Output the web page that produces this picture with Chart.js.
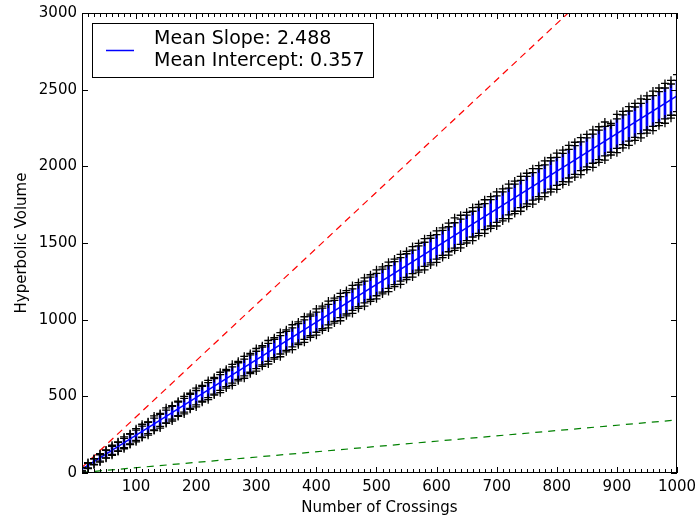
<!DOCTYPE html>
<html>
<head>
<meta charset="utf-8">
<script src="https://cdn.jsdelivr.net/npm/chart.js@4.4.0/dist/chart.umd.min.js"></script>
<style>
  html, body { margin: 0; padding: 0; background: #fff; }
  canvas { display: block; }
</style>
</head>
<body>
<canvas id="volumeChart" width="696" height="522"></canvas>
<script>
// Crossing numbers sampled (every 10)
const crossings = [10, 20, 30, 40, 50, 60, 70, 80, 90, 100,
    110, 120, 130, 140, 150, 160, 170, 180, 190, 200,
    210, 220, 230, 240, 250, 260, 270, 280, 290, 300,
    310, 320, 330, 340, 350, 360, 370, 380, 390, 400,
    410, 420, 430, 440, 450, 460, 470, 480, 490, 500,
    510, 520, 530, 540, 550, 560, 570, 580, 590, 600,
    610, 620, 630, 640, 650, 660, 670, 680, 690, 700,
    710, 720, 730, 740, 750, 760, 770, 780, 790, 800,
    810, 820, 830, 840, 850, 860, 870, 880, 890, 900,
    910, 920, 930, 940, 950, 960, 970, 980, 990, 1000];

// Sampled volumes at each crossing number: two high, two low
const volumeHigh = [37, 68, 94, 126, 150, 181, 203, 235, 256, 289,
    318, 334, 372, 388, 425, 440, 468, 500, 520, 553,
    572, 604, 624, 657, 676, 709, 728, 761, 780, 812,
    830, 864, 882, 916, 934, 967, 985, 1019, 1036, 1070,
    1088, 1121, 1140, 1172, 1190, 1223, 1242, 1273, 1293, 1325,
    1344, 1375, 1395, 1426, 1446, 1477, 1497, 1528, 1548, 1579,
    1599, 1630, 1664, 1681, 1700, 1731, 1751, 1782, 1802, 1833,
    1853, 1884, 1904, 1934, 1955, 1985, 2005, 2036, 2056, 2086,
    2106, 2137, 2157, 2187, 2208, 2238, 2258, 2289, 2280, 2339,
    2359, 2390, 2410, 2440, 2460, 2491, 2511, 2541, 2561, 2598];
const volumeHigh2 = [35, 63, 92, 119, 147, 173, 200, 226, 253, 279,
    306, 331, 358, 383, 410, 435, 462, 487, 513, 538,
    565, 589, 616, 641, 667, 692, 719, 743, 770, 794,
    821, 845, 872, 896, 923, 947, 974, 998, 1024, 1049,
    1075, 1100, 1126, 1150, 1177, 1201, 1227, 1252, 1278, 1302,
    1329, 1353, 1379, 1404, 1430, 1454, 1481, 1505, 1531, 1555,
    1582, 1606, 1632, 1656, 1682, 1707, 1733, 1757, 1783, 1807,
    1834, 1858, 1884, 1908, 1934, 1959, 1985, 2009, 2035, 2059,
    2085, 2110, 2135, 2160, 2186, 2210, 2236, 2261, 2268, 2310,
    2336, 2361, 2387, 2411, 2437, 2461, 2487, 2511, 2537, 2560];
const volumeLow2 = [14, 34, 56, 77, 99, 122, 144, 166, 189, 212,
    234, 257, 281, 304, 327, 351, 374, 397, 421, 444,
    468, 492, 515, 539, 563, 586, 610, 634, 657, 681,
    705, 728, 752, 776, 800, 823, 847, 871, 895, 918,
    942, 966, 989, 1013, 1037, 1061, 1085, 1109, 1132, 1156,
    1180, 1204, 1228, 1252, 1276, 1300, 1323, 1347, 1371, 1395,
    1419, 1443, 1467, 1491, 1515, 1539, 1563, 1587, 1611, 1635,
    1659, 1683, 1707, 1731, 1755, 1779, 1803, 1827, 1851, 1876,
    1900, 1924, 1948, 1972, 1996, 2020, 2044, 2068, 2092, 2117,
    2141, 2165, 2189, 2213, 2237, 2261, 2285, 2309, 2333, 2357];
const volumeLow = [13, 29, 53, 71, 97, 115, 141, 158, 186, 203,
    231, 247, 277, 293, 323, 339, 369, 385, 415, 431,
    462, 478, 508, 524, 554, 571, 601, 618, 648, 665,
    696, 711, 743, 758, 790, 805, 837, 852, 884, 899,
    931, 946, 978, 993, 1025, 1041, 1073, 1088, 1120, 1136,
    1168, 1183, 1215, 1230, 1262, 1278, 1310, 1325, 1357, 1373,
    1405, 1421, 1452, 1468, 1500, 1516, 1548, 1563, 1596, 1611,
    1644, 1659, 1692, 1707, 1739, 1754, 1787, 1802, 1834, 1850,
    1882, 1898, 1930, 1946, 1978, 1993, 2026, 2041, 2074, 2089,
    2121, 2137, 2169, 2185, 2217, 2233, 2265, 2281, 2314, 2333];

// Straight lines: ends at x = 10 and x = 1000
const lineEnds = [10, 1000];
const meanFit = [24.6, 2460];        // mean fit line (blue)
const upperBound = [36.6, 3663.9];   // red dashed
const lowerBound = [3.5, 346];       // green dashed

const legendLines = ['Mean Slope: 2.488', 'Mean Intercept: 0.357'];

const FONT = 'DejaVu Sans';
Chart.defaults.font.family = FONT;
Chart.defaults.color = '#000';

function pts(xs, ys) {
    return xs.map((x, i) => ({ x: x, y: ys[i] }));
}

function markers(label, ys) {
    return {
        type: 'line',
        label: label,
        data: pts(crossings, ys),
        showLine: false,
        pointStyle: 'cross',
        pointRadius: 4,
        borderColor: '#000',
        borderWidth: 1.3,
        order: 1
    };
}

// frame, inside ticks (matplotlib style) and the boxed legend
const frameAndLegend = {
    id: 'frameAndLegend',
    afterDraw(chart) {
        const { ctx, chartArea: a, scales: { x, y } } = chart;
        ctx.save();
        ctx.strokeStyle = '#000';
        ctx.lineWidth = 1;
        ctx.beginPath();
        for (let v = 10; v <= 1000; v += 10) {
            const px = Math.round(x.getPixelForValue(v)) + 0.5;
            const len = v % 100 === 0 ? 6 : 4;
            ctx.moveTo(px, a.bottom);
            ctx.lineTo(px, a.bottom - len);
            ctx.moveTo(px, a.top);
            ctx.lineTo(px, a.top + len);
        }
        y.ticks.forEach(t => {
            const py = Math.round(y.getPixelForValue(t.value)) + 0.5;
            ctx.moveTo(a.left, py);
            ctx.lineTo(a.left + 6, py);
            ctx.moveTo(a.right, py);
            ctx.lineTo(a.right - 6, py);
        });
        ctx.stroke();
        ctx.strokeRect(a.left + 0.5, a.top + 0.5, a.width - 1, a.height - 1);

        // legend box
        const bx = a.left + 10, by = a.top + 10;
        ctx.fillStyle = '#fff';
        ctx.fillRect(bx, by, 281, 54);
        ctx.strokeRect(bx + 0.5, by + 0.5, 281, 54);
        ctx.strokeStyle = '#0000ff';
        ctx.lineWidth = 1.5;
        ctx.beginPath();
        ctx.moveTo(bx + 14, by + 27.5);
        ctx.lineTo(bx + 42, by + 27.5);
        ctx.stroke();
        ctx.fillStyle = '#000';
        ctx.font = '19px "' + FONT + '"';
        ctx.textBaseline = 'middle';
        ctx.textAlign = 'left';
        ctx.fillText(legendLines[0], bx + 62, by + 16);
        ctx.fillText(legendLines[1], bx + 62, by + 38);
        ctx.restore();
    }
};

const noPad = s => { s.paddingLeft = 0; s.paddingRight = 0; s.paddingTop = 0; s.paddingBottom = 0; };

const ctx = document.getElementById('volumeChart').getContext('2d');
new Chart(ctx, {
    type: 'scatter',
    data: {
        datasets: [
            {
                type: 'line',
                label: 'Mean fit',
                data: pts(lineEnds, meanFit),
                borderColor: '#0000ff',
                borderWidth: 1.5,
                pointRadius: 0,
                order: 2
            },
            markers('High', volumeHigh),
            markers('High 2', volumeHigh2),
            markers('Low 2', volumeLow2),
            markers('Low', volumeLow),
            {
                type: 'bar',
                label: 'Range',
                data: crossings.map((c, i) => ({ x: c, y: [volumeLow2[i], volumeHigh2[i]] })),
                backgroundColor: '#0000ff',
                barThickness: 2,
                grouped: false,
                order: 3
            },
            {
                type: 'line',
                label: 'Upper',
                data: pts(lineEnds, upperBound),
                borderColor: '#ff0000',
                borderWidth: 1.2,
                borderDash: [7, 5],
                pointRadius: 0,
                order: 4
            },
            {
                type: 'line',
                label: 'Lower',
                data: pts(lineEnds, lowerBound),
                borderColor: '#008000',
                borderWidth: 1.2,
                borderDash: [7, 6],
                pointRadius: 0,
                order: 4
            }
        ]
    },
    options: {
        responsive: false,
        animation: false,
        devicePixelRatio: 1,
        layout: { padding: { top: 13, right: 19, left: 0, bottom: 0 } },
        plugins: {
            legend: { display: false },
            tooltip: { enabled: false }
        },
        scales: {
            x: {
                type: 'linear',
                min: 10,
                max: 1000,
                offset: false,
                grid: { display: false, drawTicks: false },
                border: { display: false },
                ticks: { padding: 5, font: { size: 15 }, maxRotation: 0, callback: v => String(v) },
                afterBuildTicks: s => {
                    s.ticks = [100, 200, 300, 400, 500, 600, 700, 800, 900, 1000].map(v => ({ value: v }));
                },
                afterFit: s => { s.height = 49; noPad(s); },
                title: {
                    display: true,
                    text: 'Number of Crossings',
                    font: { size: 15 },
                    padding: { top: 0, bottom: 5 }
                }
            },
            y: {
                min: 0,
                max: 3000,
                grid: { display: false, drawTicks: false },
                border: { display: false },
                ticks: { stepSize: 500, padding: 5, font: { size: 15 }, callback: v => String(v) },
                afterFit: s => { s.width = 82; noPad(s); },
                title: {
                    display: true,
                    text: 'Hyperbolic Volume',
                    font: { size: 15 },
                    padding: { top: 13, bottom: 0 }
                }
            }
        }
    },
    plugins: [frameAndLegend]
});
</script>
</body>
</html>
